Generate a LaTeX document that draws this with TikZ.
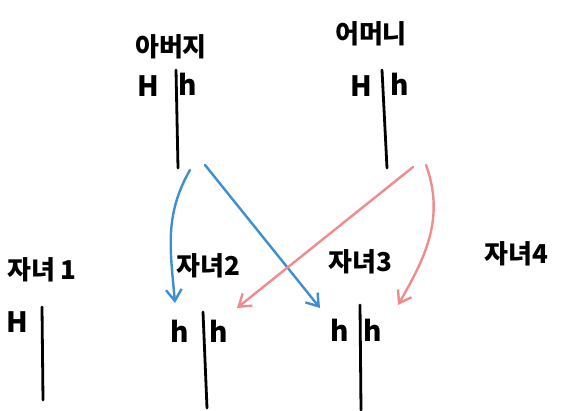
\documentclass[tikz,border=0pt]{standalone}
\usepackage{fontspec}
\setmainfont{Noto Sans CJK KR}
\usetikzlibrary{arrows.meta, positioning}
\definecolor{dadblue}{RGB}{62,142,208}
\definecolor{mompink}{RGB}{240,140,140}

\begin{document}
\begin{tikzpicture}[
    x=1pt, y=-1pt,
    kinlabel/.style={font=\fontsize{26}{28}\selectfont\bfseries, inner sep=0pt},
    allele/.style={font=\fontsize{28}{30}\selectfont\bfseries, inner sep=0pt},
    chrom/.style={line width=2.8pt, line cap=round},
    inherit/.style={line width=2.4pt, line cap=round,
      -{Straight Barb[length=4mm, width=5.5mm, line width=2.4pt]}},
  ]
    \useasboundingbox (0,0) rectangle (569,411);
    % parents
    \node[kinlabel] (dad) at (171,47) {아버지};
    \node[kinlabel] (mom) at (371,34) {어머니};
    \node[allele] (dadH) at (148,86) {H};
    \node[allele] (dadh) at (188,84) {h};
    \node[allele] (momH) at (361,86) {H};
    \node[allele] (momh) at (400,84) {h};
    \draw[chrom] (176,70) -- (178,168);
    \draw[chrom] (382,70) -- (387,168);
    % children
    \node[kinlabel] (kid1) at (42,270) {자녀 1};
    \node[kinlabel] (kid2) at (208,266) {자녀2};
    \node[kinlabel] (kid3) at (360,262) {자녀3};
    \node[kinlabel] (kid4) at (516,254) {자녀4};
    \node[allele] (kid1H) at (17,322) {H};
    \node[allele] (kid2a) at (180,331) {h};
    \node[allele] (kid2b) at (219,331) {h};
    \node[allele] (kid3a) at (340,330) {h};
    \node[allele] (kid3b) at (373,330) {h};
    \draw[chrom] (42,307) -- (43,400);
    \draw[chrom] (203,312) -- (207,408);
    \draw[chrom] (360,305) -- (361,410);
    % arrow ends
    \coordinate (dadL) at (190,170);
    \coordinate (dadR) at (205,165);
    \coordinate (momL) at (413,167);
    \coordinate (momR) at (426,165);
    \coordinate (to2L) at (175,303);
    \coordinate (to2R) at (237,308);
    \coordinate (to3L) at (320,308);
    \coordinate (to4) at (398,305);
    % inheritance from the father
    \draw[inherit, dadblue] (dadL) to[out=-120, in=95] (to2L);
    \draw[inherit, dadblue] (dadR) -- (to3L);
    % inheritance from the mother
    \draw[inherit, mompink] (momL) -- (to2R);
    \draw[inherit, mompink] (momR) to[out=-70, in=60] (to4);
  \end{tikzpicture}
\end{document}
